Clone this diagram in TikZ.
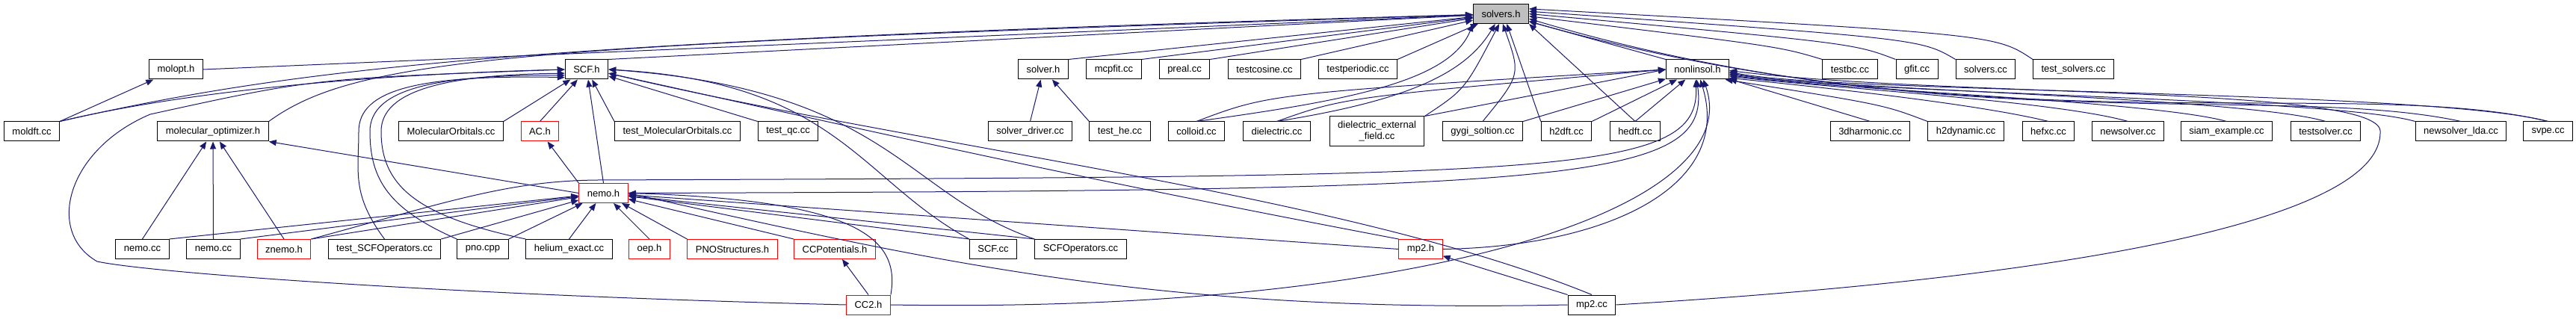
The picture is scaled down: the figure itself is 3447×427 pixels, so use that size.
\documentclass[tikz,border=0pt]{standalone}
\usepackage{fontspec}
\setsansfont{Liberation Sans}
\usetikzlibrary{arrows.meta}
\definecolor{edgeblue}{HTML}{191970}
\definecolor{hdrred}{HTML}{FF0000}
\definecolor{rootgray}{HTML}{BFBFBF}

\begin{document}
\begin{tikzpicture}[x=0.5pt, y=-0.5pt,
    file/.style={draw, line width=0.5pt, fill=white, minimum height=13pt,
                 inner xsep=5.5pt, inner ysep=1pt, align=center,
                 font=\sffamily\fontsize{6.5}{7.5}\selectfont},
    hdr/.style={file, draw=hdrred},
    root/.style={file, fill=rootgray},
    incl/.style={draw=edgeblue, line width=0.5pt, -{Triangle[length=5pt,width=4pt]}},
  ]
  \useasboundingbox (0,0) rectangle (3447,427);

  \node[root] (solversh) at (2008.5,18.5) {solvers.h};

  \node[file] (molopth)      at (235.5,93) {molopt.h};
  \node[file] (scfh)         at (785,93)   {SCF.h};
  \node[file] (solverh)      at (1396,93)  {solver.h};
  \node[file] (mcpfit)       at (1490.5,93) {mcpfit.cc};
  \node[file] (preal)        at (1585,93)  {preal.cc};
  \node[file] (testcosine)   at (1692,93)  {testcosine.cc};
  \node[file] (testperiodic) at (1817,93)  {testperiodic.cc};
  \node[file] (nonlinsolh)   at (2271.5,93) {nonlinsol.h};
  \node[file] (testbc)       at (2475.5,93) {testbc.cc};
  \node[file] (gfit)         at (2565,93)  {gfit.cc};
  \node[file] (solverscc)    at (2657,93)  {solvers.cc};
  \node[file] (testsolvers)  at (2774.5,93) {test\_solvers.cc};

  \node[file] (moldft)       at (42.5,176)  {moldft.cc};
  \node[file] (molecopth)    at (285,176)   {molecular\_optimizer.h};
  \node[file] (molorb)       at (603.5,176) {MolecularOrbitals.cc};
  \node[hdr]  (ach)          at (722.5,176) {AC.h};
  \node[file] (testmolorb)   at (906.5,176) {test\_MolecularOrbitals.cc};
  \node[file] (testqc)       at (1054.5,176) {test\_qc.cc};
  \node[file] (solverdriver) at (1378.5,176) {solver\_driver.cc};
  \node[file] (testhe)       at (1498.5,176) {test\_he.cc};
  \node[file] (colloid)      at (1601,176)  {colloid.cc};
  \node[file] (dielectric)   at (1708.5,176) {dielectric.cc};
  \node[file, minimum height=20pt] (dielext) at (1842.5,176) {dielectric\_external\\\_field.cc};
  \node[file] (gygi)         at (1984,176)  {gygi\_soltion.cc};
  \node[file] (htwodft)      at (2096,176)  {h2dft.cc};
  \node[file] (hedft)        at (2188,176)  {hedft.cc};
  \node[file] (harmonic)     at (2502.5,176) {3dharmonic.cc};
  \node[file] (htwodyn)      at (2630.5,176) {h2dynamic.cc};
  \node[file] (hefxc)        at (2741,176)  {hefxc.cc};
  \node[file] (newsolver)    at (2847.5,176) {newsolver.cc};
  \node[file] (siam)         at (2979.5,176) {siam\_example.cc};
  \node[file] (testsolver)   at (3112,176)  {testsolver.cc};
  \node[file] (newsolverlda) at (3293,176)  {newsolver\_lda.cc};
  \node[file] (svpe)         at (3409.5,176) {svpe.cc};

  \node[hdr]  (nemoh)        at (807.5,258.5) {nemo.h};

  \node[file] (nemoa)        at (190.5,333.5) {nemo.cc};
  \node[file] (nemob)        at (285.5,333.5) {nemo.cc};
  \node[hdr]  (znemoh)       at (380,333.5)   {znemo.h};
  \node[file] (testscfops)   at (514.5,333.5) {test\_SCFOperators.cc};
  \node[file] (pno)          at (646,333.5)   {pno.cpp};
  \node[file] (helium)       at (761.5,333.5) {helium\_exact.cc};
  \node[hdr]  (oeph)         at (869,333.5)   {oep.h};
  \node[hdr]  (pnostruct)    at (980,333.5)   {PNOStructures.h};
  \node[hdr]  (ccpot)        at (1117,333.5)  {CCPotentials.h};
  \node[file] (scfcc)        at (1329,333.5)  {SCF.cc};
  \node[file] (scfops)       at (1446,333.5)  {SCFOperators.cc};
  \node[hdr]  (mptwoh)       at (1901,333.5)  {mp2.h};

  \node[hdr]  (cctwoh)       at (1162,408) {CC2.h};
  \node[file] (mptwocc)      at (2130,408) {mp2.cc};

  \draw[incl] (molopth.east) -- (solversh);
  \draw[incl] (moldft.north east) .. controls (400,90) and (700,55) .. (solversh);
  \draw[incl] (molecopth.north east) .. controls (480,75) and (700,60) .. (solversh);
  \draw[incl] (scfh.north east) -- (solversh);
  \draw[incl] (solverh.north east) -- (solversh);
  \draw[incl] (mcpfit.north east) -- (solversh);
  \draw[incl] (preal.north east) -- (solversh);
  \draw[incl] (testcosine.north east) -- (solversh);
  \draw[incl] (testperiodic.north east) -- (solversh);
  \draw[incl] (colloid.north) .. controls (1800,135) and (1940,110) .. (solversh.south west);
  \draw[incl] (dielectric.north) .. controls (1880,135) and (1960,100) .. (solversh.-120);
  \draw[incl] (dielext.north east) .. controls (1960,120) .. (solversh.-100);
  \draw[incl] (gygi.north) .. controls (2035,100) .. (solversh.-80);
  \draw[incl] (htwodft.north west) -- (solversh.-60);
  \draw[incl] (hedft.north) -- (solversh.south east);
  \draw[incl] (nonlinsolh.north west) -- (solversh);
  \draw[incl] (testbc.north west) .. controls (2380,62) .. (solversh.-5);
  \draw[incl] (gfit.north west) .. controls (2480,58) .. (solversh.east);
  \draw[incl] (solverscc.north west) .. controls (2570,52) .. (solversh.5);
  \draw[incl] (testsolvers.north west) .. controls (2670,46) .. (solversh.10);
  \draw[incl] (newsolverlda.north) .. controls (3050,110) and (2600,190) .. (solversh.-10);
  \draw[incl] (svpe.north) .. controls (3150,100) and (2650,200) .. (solversh.-15);

  \draw[incl] (moldft.north east) -- (molopth);

  \draw[incl] (moldft.north east) .. controls (300,110) and (600,97) .. (scfh.west);
  \draw[incl] (molorb.north east) -- (scfh);
  \draw[incl] (ach.north) -- (scfh);
  \draw[incl] (testmolorb.north west) -- (scfh);
  \draw[incl] (testqc.north west) -- (scfh);
  \draw[incl] (nemoh.north) -- (scfh);
  \draw[incl] (testscfops.north) .. controls (470,260) and (480,230) .. (480,176) .. controls (480,120) and (560,100) .. (scfh.200);
  \draw[incl] (pno.north west) .. controls (520,280) and (495,240) .. (495,176) .. controls (495,120) and (580,100) .. (scfh.195);
  \draw[incl] (helium.north west) .. controls (560,290) and (510,250) .. (510,176) .. controls (510,120) and (600,100) .. (scfh.190);
  \draw[incl] (cctwoh.west) .. controls (600,395) and (200,365) .. (130,350) .. controls (60,310) and (90,200) .. (201,153) .. controls (420,105) .. (scfh.west);
  \draw[incl] (scfcc.north west) .. controls (1150,240) and (1120,110) .. (scfh.east);
  \draw[incl] (scfops.north west) .. controls (1210,260) and (1190,120) .. (scfh.east);
  \draw[incl] (mptwoh.north west) .. controls (1450,240) and (1230,190) .. (scfh.-10);
  \draw[incl] (mptwocc.north) .. controls (1800,260) and (1250,200) .. (scfh.-10);

  \draw[incl] (solverdriver.north) -- (solverh);
  \draw[incl] (testhe.north west) -- (solverh);

  \draw[incl] (colloid.north) .. controls (1700,125) .. (nonlinsolh.west);
  \draw[incl] (dielectric.north) .. controls (1800,130) .. (nonlinsolh.west);
  \draw[incl] (dielext.north east) -- (nonlinsolh.west);
  \draw[incl] (gygi.north east) -- (nonlinsolh);
  \draw[incl] (htwodft.north east) -- (nonlinsolh);
  \draw[incl] (hedft.north) -- (nonlinsolh);
  \draw[incl] (znemoh.north east) .. controls (600,270) and (680,242) .. (800,241) .. controls (2100,236) and (2275,235) .. (nonlinsolh.-100);
  \draw[incl] (nemoh.east) .. controls (2100,255) and (2290,245) .. (nonlinsolh.-95);
  \draw[incl] (mptwoh.east) .. controls (2150,330) and (2320,250) .. (nonlinsolh.-75);
  \draw[incl] (cctwoh.east) .. controls (1900,420) and (2340,280) .. (nonlinsolh.-60);
  \draw[incl] (harmonic.north) -- (nonlinsolh);
  \draw[incl] (htwodyn.north west) .. controls (2520,140) .. (nonlinsolh.-20);
  \draw[incl] (hefxc.north) .. controls (2650,140) and (2450,118) .. (nonlinsolh.-15);
  \draw[incl] (newsolver.north) .. controls (2750,135) and (2450,118) .. (nonlinsolh.-12);
  \draw[incl] (siam.north) .. controls (2880,135) and (2450,120) .. (nonlinsolh.-10);
  \draw[incl] (testsolver.north) .. controls (3000,130) and (2450,120) .. (nonlinsolh.-8);
  \draw[incl] (newsolverlda.north west) .. controls (3120,130) and (2450,125) .. (nonlinsolh.-6);
  \draw[incl] (svpe.north) .. controls (3250,120) and (2450,125) .. (nonlinsolh.-4);
  \draw[incl] (mptwocc.east) .. controls (2800,370) and (3190,290) .. (3185,175) .. controls (3180,115) and (2600,130) .. (nonlinsolh.-2);

  \draw[incl] (nemoa.north) -- (molecopth);
  \draw[incl] (nemob.north) -- (molecopth);
  \draw[incl] (znemoh.north) -- (molecopth);
  \draw[incl] (nemoh.west) -- (molecopth.south east);

  \draw[incl] (nemoh.north west) -- (ach);

  \draw[incl] (nemoa.north east) -- (nemoh);
  \draw[incl] (nemob.north east) -- (nemoh);
  \draw[incl] (znemoh.north east) -- (nemoh);
  \draw[incl] (testscfops.north east) -- (nemoh);
  \draw[incl] (pno.north east) -- (nemoh);
  \draw[incl] (helium.north) -- (nemoh);
  \draw[incl] (oeph.north) -- (nemoh);
  \draw[incl] (pnostruct.north west) -- (nemoh);
  \draw[incl] (ccpot.north west) -- (nemoh);
  \draw[incl] (cctwoh.north east) .. controls (1205,320) and (1150,268) .. (nemoh.east);
  \draw[incl] (scfcc.north west) -- (nemoh);
  \draw[incl] (scfops.north west) -- (nemoh);
  \draw[incl] (mptwoh.west) -- (nemoh);
  \draw[incl] (mptwocc.west) .. controls (1550,420) and (1250,350) .. (nemoh.east);

  \draw[incl] (cctwoh.north) -- (ccpot);
  \draw[incl] (mptwocc.north west) -- (mptwoh);
\end{tikzpicture}
\end{document}
